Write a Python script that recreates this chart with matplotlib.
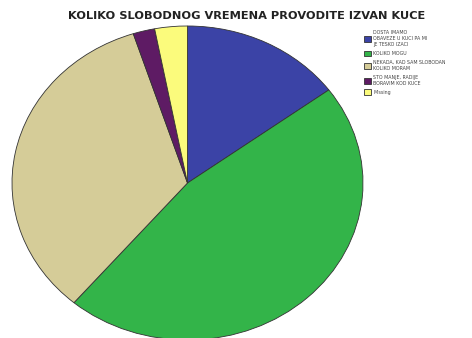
import matplotlib.pyplot as plt

# odgovori i postoci
labels = [
    'DOSTA IMAMO\nOBAVEZE U KUCI PA MI\nJE TESKO IZACI',
    'KOLIKO MOGU',
    'NEKADA, KAD SAM SLOBODAN\nKOLIKO MORAM',
    'STO MANJE, RADIJE\nBORAVIM KOD KUCE',
    'Missing',
]
values = [14.9, 46.3, 33.8, 2.0, 3.0]
colors = ['#3b43a6', '#33b449', '#d5cc98', '#5e1b64', '#fbfb7c']

fig = plt.figure(figsize=(4.72, 3.38), dpi=100)
ax = fig.add_axes([12 / 472, -2 / 338, 351 / 472, 314 / 338])
wedges, _ = ax.pie(values, colors=colors, startangle=90, counterclock=False,
                   wedgeprops={'edgecolor': '#333333', 'linewidth': 0.6})
ax.set_aspect('auto')
ax.set_xlim(-1, 1)
ax.set_ylim(-1, 1)

fig.text(0.522, 0.952, 'KOLIKO SLOBODNOG VREMENA PROVODITE IZVAN KUCE',
         ha='center', va='center', fontsize=8.2, fontweight='bold', color='#222222')

fig.legend(wedges, labels, loc='upper left', bbox_to_anchor=(361 / 472, 1 - 27 / 338),
           fontsize=3.4, frameon=False, handlelength=1.4, handleheight=1.5,
           handletextpad=0.5, labelspacing=0.8, borderpad=0.2, labelcolor='#444444')

plt.savefig('out.png', dpi=100)
